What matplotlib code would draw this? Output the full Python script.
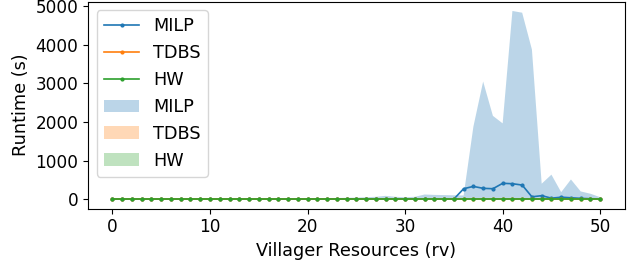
import matplotlib
matplotlib.use('Agg')
import matplotlib.pyplot as plt
import numpy as np

rv = list(range(0, 51))

# mean runtimes (s)
milp_mean = [2] * 36 + [270, 330, 280, 270, 410, 400, 365, 60, 90, 25, 50, 35, 20, 10, 5]
tdbs_mean = [1] * 51
hw_mean = [1] * 51

# upper edge of the shaded band
milp_upper = ([5] * 20 + [20, 25, 30, 30, 35, 40, 50, 60, 85, 60, 50, 60, 120, 110, 105, 100]
              + [95, 1880, 3050, 2160, 1965, 4880, 4835, 3880, 400, 635, 180, 510, 200, 140, 50])
milp_lower = [0] * 51
tdbs_upper = [3] * 51
tdbs_lower = [0] * 51
hw_upper = [3] * 51
hw_lower = [0] * 51

plt.rcParams['font.size'] = 12.7
plt.rcParams['xtick.labelsize'] = 12.2
plt.rcParams['ytick.labelsize'] = 12.2

fig, ax = plt.subplots(figsize=(6.38, 2.61), dpi=100)
fig.subplots_adjust(left=0.138, right=0.979, top=0.994, bottom=0.201)

ax.plot(rv, milp_mean, marker='.', markersize=4, linewidth=1.2, label='MILP')
ax.plot(rv, tdbs_mean, marker='.', markersize=4, linewidth=1.2, label='TDBS')
ax.plot(rv, hw_mean, marker='.', markersize=4, linewidth=1.2, label='HW')
ax.fill_between(rv, milp_lower, milp_upper, alpha=0.3, linewidth=0, label='MILP')
ax.fill_between(rv, tdbs_lower, tdbs_upper, alpha=0.3, linewidth=0, label='TDBS')
ax.fill_between(rv, hw_lower, hw_upper, alpha=0.3, linewidth=0, label='HW')

ax.set_xlabel('Villager Resources (rv)')
ax.set_ylabel('Runtime (s)')
ax.set_yticks([0, 1000, 2000, 3000, 4000, 5000])
ax.legend(loc='upper left')

fig.savefig('out.png')
